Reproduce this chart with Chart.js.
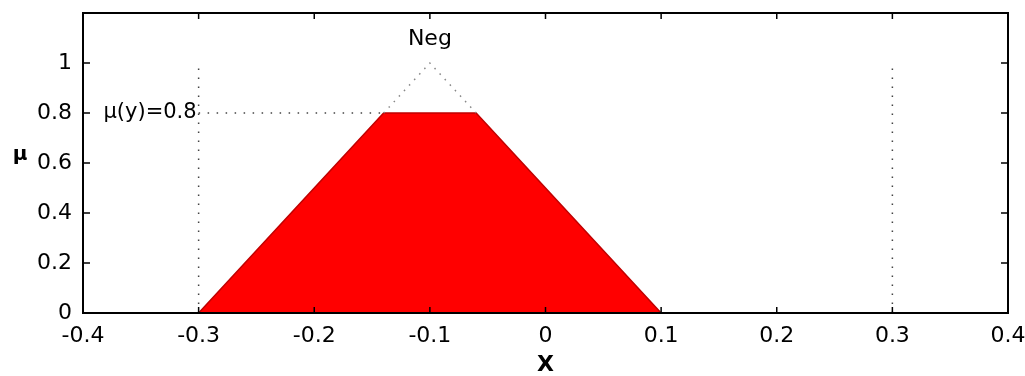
<!DOCTYPE html>
<html>
<head>
<meta charset="utf-8">
<script src="https://cdn.jsdelivr.net/npm/chart.js@4.4.0/dist/chart.umd.min.js"></script>
<style>
  html, body { margin: 0; padding: 0; background: #fff; }
  #wrap { width: 1025px; height: 376px; }
</style>
</head>
<body>
<div id="wrap"><canvas id="fuzzyChart"></canvas></div>
<script>
// Neg membership, clipped at mu = 0.8
const clipX = [-0.3, -0.14, -0.06, 0.1];
const clipMu = [0, 0.8, 0.8, 0];
// dotted top of the original triangle
const peakX = [-0.14, -0.1, -0.06];
const peakMu = [0.8, 1, 0.8];
// dotted helper lines
const cutLevel = 0.8;
const cutFrom = -0.3;
const boundX = [-0.3, 0.3];
const boundTop = 1;

const xTicks = [-0.4, -0.3, -0.2, -0.1, 0, 0.1, 0.2, 0.3, 0.4];
const yTicks = [0, 0.2, 0.4, 0.6, 0.8, 1];

const setName = 'Neg';
const setNamePos = [-0.1, 1.095];
const cutText = 'μ(y)=0.8';
const yTitle = 'μ';

const FONT = "'DejaVu Sans', sans-serif";

function pts(xs, ys) {
    return xs.map((v, i) => ({ x: v, y: ys[i] }));
}

const dotted = {
    showLine: true, fill: false, pointRadius: 0,
    borderColor: '#444', borderWidth: 1.5, borderDash: [1.5, 7.5]
};

// frame with inward ticks, the text labels and the upright y title
const framePlugin = {
    id: 'frame',
    afterDatasetsDraw(chart) {
        const { ctx, chartArea: a, scales: { x, y } } = chart;
        ctx.save();
        ctx.strokeStyle = '#000';
        ctx.lineWidth = 2;
        ctx.strokeRect(a.left, a.top, a.right - a.left, a.bottom - a.top);

        ctx.lineWidth = 1.5;
        ctx.beginPath();
        xTicks.forEach(v => {
            const px = x.getPixelForValue(v);
            ctx.moveTo(px, a.bottom); ctx.lineTo(px, a.bottom - 6);
            ctx.moveTo(px, a.top); ctx.lineTo(px, a.top + 6);
        });
        yTicks.forEach(v => {
            const py = y.getPixelForValue(v);
            ctx.moveTo(a.left, py); ctx.lineTo(a.left + 7, py);
            ctx.moveTo(a.right, py); ctx.lineTo(a.right - 7, py);
        });
        ctx.stroke();

        ctx.fillStyle = '#000';
        ctx.textBaseline = 'middle';
        ctx.font = '22px ' + FONT;
        ctx.textAlign = 'center';
        ctx.fillText(setName, x.getPixelForValue(setNamePos[0]), y.getPixelForValue(setNamePos[1]));

        ctx.font = '21px ' + FONT;
        ctx.textAlign = 'right';
        ctx.fillText(cutText, x.getPixelForValue(cutFrom) - 2, y.getPixelForValue(cutLevel));

        ctx.font = 'bold 20px ' + FONT;
        ctx.textAlign = 'center';
        ctx.fillText(yTitle, 20, (a.top + a.bottom) / 2 - 8);
        ctx.restore();
    }
};

new Chart(document.getElementById('fuzzyChart'), {
    type: 'scatter',
    data: {
        datasets: [
            { ...dotted, data: pts([boundX[0], boundX[0]], [0, boundTop]) },
            { ...dotted, data: pts([boundX[1], boundX[1]], [0, boundTop]) },
            { ...dotted, data: pts([cutFrom, clipX[1]], [cutLevel, cutLevel]) },
            { ...dotted, borderColor: '#888', borderDash: [1.5, 6], data: pts(peakX, peakMu) },
            {
                data: pts(clipX, clipMu),
                showLine: true, pointRadius: 0,
                borderColor: '#c00000', borderWidth: 1.5,
                backgroundColor: '#ff0000', fill: 'origin'
            }
        ]
    },
    options: {
        responsive: true,
        maintainAspectRatio: false,
        animation: false,
        layout: { padding: { left: 0, right: 17, top: 13, bottom: 0 } },
        plugins: { legend: { display: false }, tooltip: { enabled: false } },
        scales: {
            x: {
                type: 'linear', min: -0.4, max: 0.4,
                afterBuildTicks: s => { s.ticks = xTicks.map(v => ({ value: v })); },
                afterFit: s => { s.height = 63; s.paddingLeft = 0; s.paddingRight = 0; },
                grid: { display: false, drawTicks: false },
                border: { display: false },
                ticks: {
                    color: '#000', padding: 10, maxRotation: 0, autoSkip: false,
                    font: { family: FONT, size: 22 },
                    callback: v => String(Math.round(v * 10) / 10)
                },
                title: {
                    display: true, text: 'X', color: '#000',
                    font: { family: FONT, size: 22, weight: 'bold', lineHeight: 1 },
                    padding: { top: 0, bottom: 0 }
                }
            },
            y: {
                type: 'linear', min: 0, max: 1.2,
                afterBuildTicks: s => { s.ticks = yTicks.map(v => ({ value: v })); },
                afterFit: s => { s.width = 83; s.paddingTop = 0; s.paddingBottom = 0; },
                grid: { display: false, drawTicks: false },
                border: { display: false },
                ticks: {
                    color: '#000', padding: 11,
                    font: { family: FONT, size: 22 },
                    callback: v => String(Math.round(v * 10) / 10)
                },
                title: { display: false }
            }
        }
    },
    plugins: [framePlugin]
});
</script>
</body>
</html>
